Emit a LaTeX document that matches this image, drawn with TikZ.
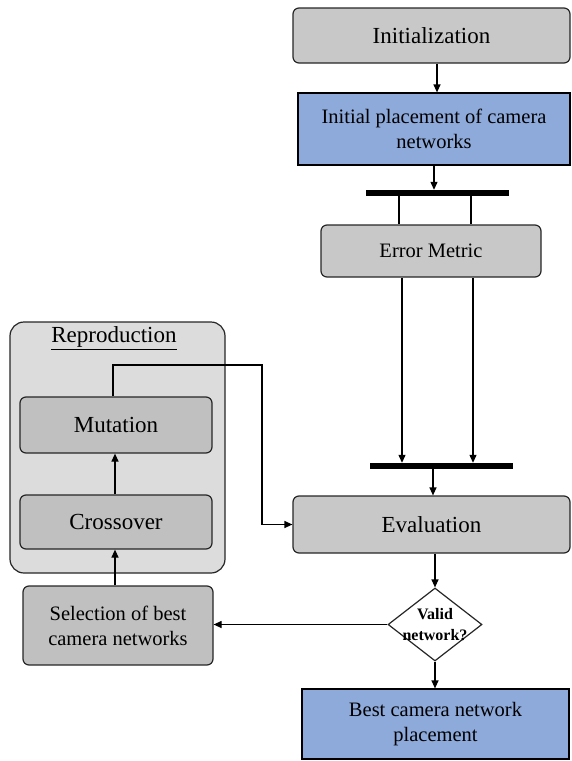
\documentclass[tikz,border=0pt]{standalone}
\usepackage{fontspec}
\setmainfont{Liberation Serif}
\usetikzlibrary{shapes.geometric,arrows.meta}
\definecolor{boxgray}{RGB}{200,200,200}
\definecolor{darkgray}{RGB}{192,192,192}
\definecolor{contgray}{RGB}{220,220,220}
\definecolor{boxblue}{RGB}{142,170,219}
\begin{document}
\begin{tikzpicture}[x=1pt,y=-1pt,
  grayrnd/.style={draw=black!85, line width=1.2pt, fill=boxgray, rounded corners=6pt, inner sep=0pt, align=center},
  bluebox/.style={draw=black, line width=1.2pt, fill=boxblue, inner sep=0pt, align=center},
  bigtxt/.style={font=\fontsize{23}{27}\selectfont},
  midtxt/.style={font=\fontsize{20.5}{25}\selectfont},
  barnode/.style={fill=black, draw=none, inner sep=0pt, minimum height=6pt},
  arr/.style={-{Triangle[length=8pt,width=7pt]}, line width=1.2pt},
  conn/.style={line width=1.2pt}]
\useasboundingbox (0,0) rectangle (571,761);

% reproduction container
\node[draw=black!85, line width=1.2pt, fill=contgray, rounded corners=14pt,
      minimum width=215pt, minimum height=251pt, inner sep=0pt] (repro) at (117.5,447.5) {};
\node[bigtxt, inner sep=0pt] (reprotitle) at (114,338) {\underline{Reproduction}};

% main column
\node[grayrnd, bigtxt, minimum width=277pt, minimum height=55pt] (init) at (431.5,35.5) {Initialization};
\node[bluebox, midtxt, minimum width=272pt, minimum height=72pt] (initial) at (434,129) {Initial placement of camera\\networks};
\node[barnode, minimum width=143pt] (bar1) at (437.5,193) {};
\node[grayrnd, midtxt, minimum width=220pt, minimum height=52pt] (em) at (431,251) {Error Metric};
\node[barnode, minimum width=143pt] (bar2) at (441.5,466) {};
\node[grayrnd, bigtxt, minimum width=277pt, minimum height=57pt] (eval) at (431.5,524.5) {Evaluation};
\node[diamond, draw=black!85, line width=1.2pt, fill=white, inner sep=0pt,
      minimum width=94pt, minimum height=73pt,
      label={[font=\fontsize{16}{21}\selectfont\bfseries, align=center, inner sep=0pt]center:Valid\\network?}] (valid) at (435,624.5) {};
\node[bluebox, midtxt, minimum width=267pt, minimum height=70pt] (best) at (435.5,724) {Best camera network\\placement};

% left column
\node[grayrnd, bigtxt, fill=darkgray, minimum width=192pt, minimum height=56pt] (mut) at (116,425) {Mutation};
\node[grayrnd, bigtxt, fill=darkgray, minimum width=192pt, minimum height=54pt] (cross) at (116,522) {Crossover};
\node[grayrnd, midtxt, fill=darkgray, minimum width=190pt, minimum height=79pt] (sel) at (118,625.5) {Selection of best\\camera networks};

% connectors
\draw[arr] (437,0 |- init.south) -- (437,0 |- initial.north);
\draw[arr] (initial.south) -- (initial.south |- bar1.north);
\draw[conn] (399,0 |- bar1.south) -- (399,0 |- em.north);
\draw[conn] (471,0 |- bar1.south) -- (471,0 |- em.north);
\draw[arr] (402,0 |- em.south) -- (402,0 |- bar2.north);
\draw[arr] (473,0 |- em.south) -- (473,0 |- bar2.north);
\draw[arr] (433,0 |- bar2.south) -- (433,0 |- eval.north);
\draw[arr] (valid.north |- eval.south) -- (valid.north);
\draw[arr] (valid.south) -- (valid.south |- best.north);
\draw[arr] (valid.west) -- (valid.west -| sel.east);
\draw[arr] (115,0 |- sel.north) -- (115,0 |- cross.south);
\draw[arr] (115,0 |- cross.north) -- (115,0 |- mut.south);
\draw[arr] (113,0 |- mut.north) -- (113,365) -- (262,365) -- (262,0 |- eval.west) -- (eval.west);
\end{tikzpicture}
\end{document}
